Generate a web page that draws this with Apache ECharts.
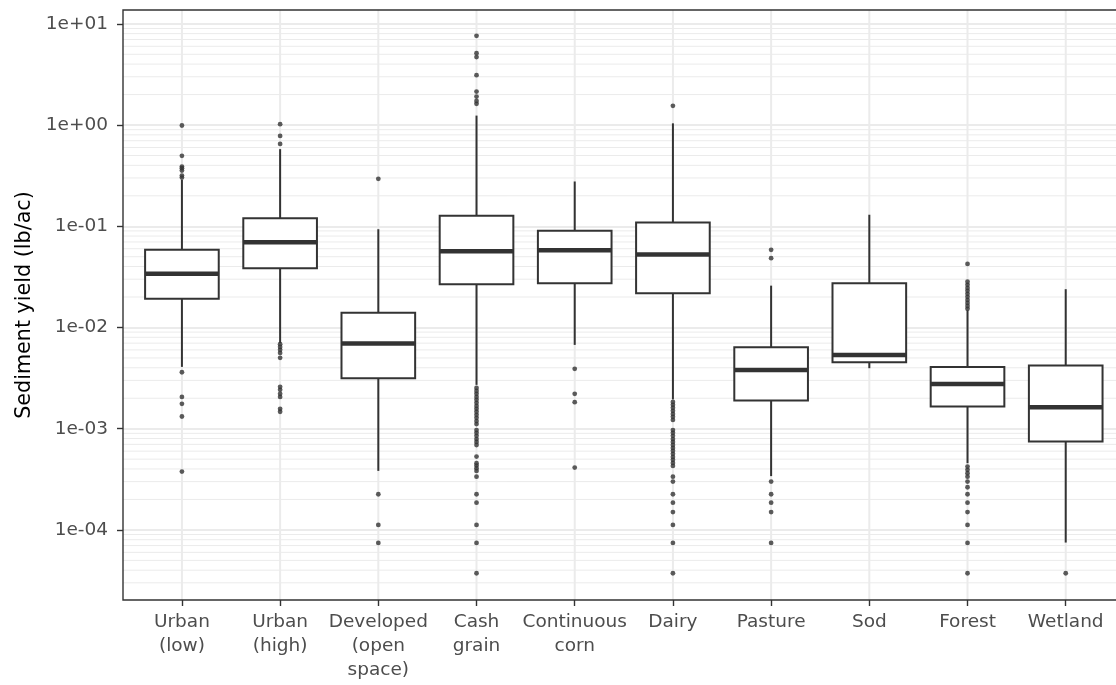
<!DOCTYPE html>
<html>
<head>
<meta charset="utf-8">
<script src="https://cdn.jsdelivr.net/npm/echarts@6/dist/echarts.min.js"></script>
<style>
  html, body { margin: 0; padding: 0; background: #ffffff; overflow: hidden; }
  #chart { width: 1116px; height: 685px; }
</style>
</head>
<body>
<div id="chart"></div>
<script>
// Land-use categories along the x axis
const categories = [
  'Urban\n(low)', 'Urban\n(high)', 'Developed\n(open\nspace)', 'Cash\ngrain',
  'Continuous\ncorn', 'Dairy', 'Pasture', 'Sod', 'Forest', 'Wetland'
];

// Box statistics per category (lb/ac)
const whiskerLow    = [0.00408, 0.0070, 3.83e-4, 0.00271, 0.00673, 0.00195, 3.4e-4, 0.00396, 4.56e-4, 7.5e-5];
const lowerQuartile = [0.0192, 0.0385, 0.00315, 0.0268, 0.0274, 0.0218, 0.00190, 0.00454, 0.00166, 7.46e-4];
const medians       = [0.0339, 0.0697, 0.00693, 0.0565, 0.0578, 0.0525, 0.00381, 0.00535, 0.00277, 0.00163];
const upperQuartile = [0.0585, 0.120, 0.0140, 0.127, 0.0902, 0.109, 0.00638, 0.0274, 0.00406, 0.00420];
const whiskerHigh   = [0.288, 0.578, 0.0935, 1.24, 0.277, 1.04, 0.0259, 0.130, 0.0148, 0.0239];

// Points beyond the whiskers
const outliers = [
  [0.99, 0.497, 0.389, 0.375, 0.355, 0.317, 0.303, 0.00361, 0.00206, 0.00176, 0.00132, 3.77e-4],
  [1.02, 0.78, 0.651, 0.00684, 0.00643, 0.00601, 0.00561, 0.00501, 0.00259, 0.00242, 0.00221, 0.00206, 0.00157, 0.00147],
  [0.294, 2.25e-4, 1.12e-4, 7.44e-5],
  [7.61, 5.13, 4.69, 3.11, 2.14, 1.91, 1.73, 1.62,
   2.53e-3, 2.36e-3, 2.21e-3, 2.06e-3, 1.93e-3, 1.80e-3, 1.68e-3, 1.57e-3, 1.47e-3, 1.37e-3,
   1.28e-3, 1.19e-3, 1.11e-3, 9.7e-4, 9.1e-4, 8.5e-4, 7.9e-4, 7.4e-4, 6.9e-4,
   5.30e-4, 4.56e-4, 4.32e-4, 4.07e-4, 3.83e-4, 3.36e-4, 2.25e-4, 1.86e-4, 1.12e-4, 7.44e-5, 3.73e-5],
  [0.00390, 0.00221, 0.00183, 4.13e-4],
  [1.55, 1.84e-3, 1.72e-3, 1.61e-3, 1.50e-3, 1.40e-3, 1.31e-3, 1.22e-3,
   9.7e-4, 9.1e-4, 8.5e-4, 7.9e-4, 7.4e-4, 6.9e-4, 6.46e-4, 6.04e-4, 5.64e-4, 5.26e-4, 4.92e-4, 4.59e-4, 4.29e-4,
   3.36e-4, 3.00e-4, 2.25e-4, 1.86e-4, 1.50e-4, 1.12e-4, 7.44e-5, 3.73e-5],
  [0.0585, 0.0484, 3.00e-4, 2.25e-4, 1.86e-4, 1.50e-4, 7.44e-5],
  [],
  [0.0425, 0.0283, 0.0264, 0.0246, 0.0230, 0.0215, 0.0201, 0.0187, 0.0175, 0.0163, 0.0153,
   4.22e-4, 3.92e-4, 3.63e-4, 3.36e-4, 3.00e-4, 2.64e-4, 2.25e-4, 1.86e-4, 1.50e-4, 1.12e-4, 7.44e-5, 3.73e-5],
  [3.73e-5]
];

// Y axis (log10) range and tick labels
const yMin = 2.03e-5;
const yMax = 13.7;
const yTickValues = [1e-4, 1e-3, 1e-2, 1e-1, 1, 10];
const yTickLabels = ['1e-04', '1e-03', '1e-02', '1e-01', '1e+00', '1e+01'];

// Layout of the panel
const PANEL_LEFT = 123;
const PANEL_TOP = 10;
const PANEL_BOTTOM = 85;
const CHART_W = 1116;
const UNIT = 98.2;            // pixels per category step
const X_PAD = 0.6;            // discrete axis expansion on each side
const BOX_WIDTH = 0.75;
const INK = '#333333';
const GRID_COLOR = '#EBEBEB';
const FONT = 'DejaVu Sans';

const xMinVal = -X_PAD;
const xMaxVal = categories.length - 1 + X_PAD;
const panelWidth = UNIT * (xMaxVal - xMinVal);
const labelGridLeft = PANEL_LEFT + (X_PAD - 0.5) * UNIT;
const labelGridWidth = UNIT * categories.length;

// Minor log breaks (2..9 x 10^k) inside the visible range
const minorBreaks = [];
for (let k = -5; k <= 1; k++) {
  for (let m = 2; m <= 9; m++) {
    const v = m * Math.pow(10, k);
    if (v > yMin && v < yMax) minorBreaks.push(v);
  }
}

const boxData = categories.map((_, i) =>
  [i, whiskerLow[i], lowerQuartile[i], medians[i], upperQuartile[i], whiskerHigh[i]]);

const outlierData = [];
outliers.forEach((list, i) => list.forEach(v => outlierData.push([i, v])));

function renderBox(params, api) {
  const x = api.value(0);
  const lo = api.coord([x, api.value(1)]);
  const q1 = api.coord([x, api.value(2)]);
  const md = api.coord([x, api.value(3)]);
  const q3 = api.coord([x, api.value(4)]);
  const hi = api.coord([x, api.value(5)]);
  const left = api.coord([x - BOX_WIDTH / 2, api.value(3)])[0];
  const right = api.coord([x + BOX_WIDTH / 2, api.value(3)])[0];
  const lineStyle = { stroke: INK, lineWidth: 2, fill: null };
  return {
    type: 'group',
    children: [
      { type: 'line', shape: { x1: hi[0], y1: hi[1], x2: q3[0], y2: q3[1] }, style: lineStyle },
      { type: 'line', shape: { x1: q1[0], y1: q1[1], x2: lo[0], y2: lo[1] }, style: lineStyle },
      { type: 'rect', shape: { x: left, y: q3[1], width: right - left, height: q1[1] - q3[1] },
        style: { fill: '#ffffff', stroke: INK, lineWidth: 2 } },
      { type: 'line', shape: { x1: left, y1: md[1], x2: right, y2: md[1] },
        style: { stroke: INK, lineWidth: 4.5 } }
    ]
  };
}

function renderVGrid(params, api) {
  const x = api.value(0);
  const top = api.coord([x, yMax]);
  const bottom = api.coord([x, yMin]);
  return { type: 'line', shape: { x1: top[0], y1: top[1], x2: bottom[0], y2: bottom[1] },
           style: { stroke: GRID_COLOR, lineWidth: 2 } };
}

function renderMinorGrid(params, api) {
  const v = api.value(1);
  const a = api.coord([xMinVal, v]);
  const b = api.coord([xMaxVal, v]);
  return { type: 'line', shape: { x1: a[0], y1: a[1], x2: b[0], y2: b[1] },
           style: { stroke: GRID_COLOR, lineWidth: 1 } };
}

// Panel outline (top, left, bottom) drawn over the grid lines
function renderBorder(params, api) {
  const tl = api.coord([xMinVal, yMax]);
  const tr = api.coord([xMaxVal, yMax]);
  const bl = api.coord([xMinVal, yMin]);
  const br = api.coord([xMaxVal, yMin]);
  return { type: 'polyline', shape: { points: [tr, tl, bl, br] },
           style: { fill: null, stroke: INK, lineWidth: 1.4 } };
}

const chart = echarts.init(document.getElementById('chart'), null, { renderer: 'canvas' });

chart.setOption({
  animation: false,
  backgroundColor: '#ffffff',
  grid: [
    { left: PANEL_LEFT, top: PANEL_TOP, bottom: PANEL_BOTTOM,
      right: CHART_W - PANEL_LEFT - panelWidth, outerBoundsMode: 'none', containLabel: false },
    { left: labelGridLeft, top: PANEL_TOP, bottom: PANEL_BOTTOM,
      right: CHART_W - labelGridLeft - labelGridWidth, outerBoundsMode: 'none', containLabel: false }
  ],
  xAxis: [
    { type: 'value', gridIndex: 0, min: xMinVal, max: xMaxVal, show: false },
    { type: 'category', gridIndex: 1, data: categories, boundaryGap: true,
      axisLine: { show: false },
      axisTick: { show: true, alignWithLabel: true, length: 6, lineStyle: { color: INK, width: 1.4 } },
      axisLabel: { interval: 0, color: '#4D4D4D', fontFamily: FONT, fontSize: 18.5,
                   lineHeight: 24, margin: 10, align: 'center' },
      splitLine: { show: false } }
  ],
  yAxis: [
    { type: 'log', logBase: 10, gridIndex: 0, min: yMin, max: yMax,
      axisLine: { show: false, onZero: false },
      axisTick: { show: true, length: 6, lineStyle: { color: INK, width: 1.4 } },
      axisLabel: {
        color: '#4D4D4D', fontFamily: FONT, fontSize: 18.5, margin: 15,
        showMinLabel: false, showMaxLabel: false,
        formatter: function (v) {
          const idx = yTickValues.findIndex(t => Math.abs(Math.log10(t) - Math.log10(v)) < 1e-6);
          return idx >= 0 ? yTickLabels[idx] : '';
        }
      },
      splitLine: { show: true, showMinLine: false, showMaxLine: false,
                   lineStyle: { color: GRID_COLOR, width: 1.8 } },
      minorTick: { show: false },
      minorSplitLine: { show: false },
      name: 'Sediment yield (lb/ac)',
      nameLocation: 'middle',
      nameGap: 88,
      nameTextStyle: { color: '#000000', fontFamily: FONT, fontSize: 20.7 }
    },
    { type: 'value', gridIndex: 1, show: false, splitLine: { show: false }, axisLine: { show: false } }
  ],
  series: [
    { type: 'custom', name: 'minor-grid', xAxisIndex: 0, yAxisIndex: 0, z: 1, silent: true,
      data: minorBreaks.map(v => [xMinVal, v]), encode: { x: 0, y: 1 },
      renderItem: renderMinorGrid },
    { type: 'custom', name: 'category-grid', xAxisIndex: 0, yAxisIndex: 0, z: 1, silent: true,
      data: categories.map((_, i) => [i, yMin, yMax]), encode: { x: 0, y: [1, 2] },
      renderItem: renderVGrid },
    { type: 'custom', name: 'boxes', xAxisIndex: 0, yAxisIndex: 0, z: 3, silent: true,
      data: boxData, encode: { x: 0, y: [1, 2, 3, 4, 5] },
      renderItem: renderBox },
    { type: 'scatter', name: 'outliers', xAxisIndex: 0, yAxisIndex: 0, z: 4, silent: true,
      data: outlierData, symbol: 'circle', symbolSize: 4.8,
      itemStyle: { color: INK } },
    { type: 'custom', name: 'panel-border', xAxisIndex: 0, yAxisIndex: 0, z: 5, silent: true,
      data: [[xMinVal, yMin]], encode: { x: 0, y: 1 },
      renderItem: renderBorder }
  ]
});
</script>
</body>
</html>
